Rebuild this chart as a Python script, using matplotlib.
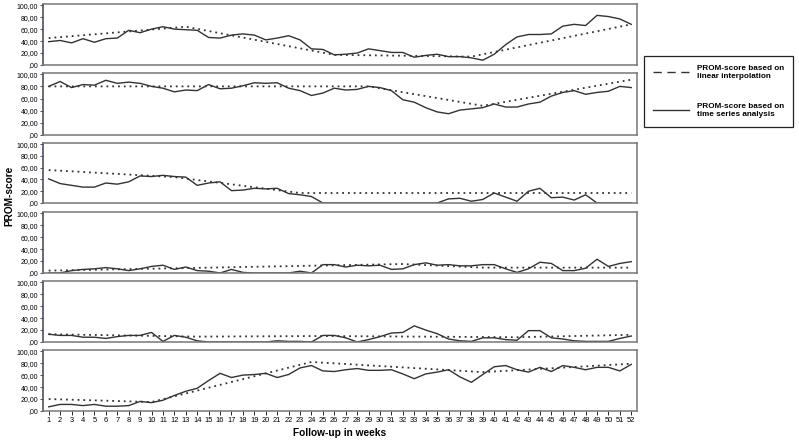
import matplotlib
matplotlib.use("Agg")
import matplotlib.pyplot as plt
from matplotlib.lines import Line2D

plt.rcParams['font.family'] = ['Liberation Sans', 'DejaVu Sans']

weeks = list(range(1, 53))

# PROM-score based on time series analysis, one list per patient (weeks 1..52)
ts_1 = [39, 41, 37, 44, 38, 44, 45, 58, 54, 60, 64, 60, 59, 58, 46, 45, 50, 52, 50, 42,
        45, 49, 42, 27, 26, 17, 18, 20, 27, 24, 21, 21, 13, 16, 18, 14, 14, 12, 8, 18,
        34, 47, 51, 51, 52, 65, 68, 66, 83, 81, 77, 68]
ts_2 = [80, 88, 78, 83, 82, 90, 85, 87, 85, 80, 77, 71, 74, 73, 83, 76, 77, 81, 86, 85,
        86, 77, 73, 65, 69, 77, 74, 75, 80, 78, 73, 58, 54, 45, 38, 35, 41, 43, 45, 51,
        46, 46, 51, 54, 64, 70, 73, 67, 70, 72, 80, 78]
ts_3 = [41, 33, 30, 27, 27, 34, 32, 36, 46, 45, 47, 45, 44, 30, 34, 36, 21, 22, 25, 24,
        25, 16, 14, 11, 0, 0, 0, 0, 0, 0, 0, 0, 0, 0, 0, 7, 8, 3, 6, 17,
        10, 3, 20, 25, 9, 10, 5, 14, 0, 0, 0, 0]
ts_4 = [0, 0, 4, 6, 7, 9, 7, 4, 7, 11, 13, 6, 10, 4, 3, 0, 6, 1, 0, 0,
        0, 0, 3, 0, 14, 14, 10, 13, 12, 13, 6, 7, 14, 17, 13, 14, 12, 12, 14, 14,
        7, 1, 7, 18, 16, 4, 4, 8, 23, 11, 16, 19]
ts_5 = [13, 11, 11, 8, 8, 6, 9, 11, 11, 16, 1, 11, 8, 2, 0, 0, 0, 0, 0, 0,
        2, 1, 1, 0, 11, 11, 7, 0, 4, 9, 15, 16, 27, 20, 14, 5, 2, 1, 7, 7,
        4, 3, 19, 19, 7, 5, 2, 1, 1, 1, 6, 10]
ts_6 = [7, 11, 11, 9, 11, 8, 8, 9, 16, 14, 18, 26, 33, 38, 51, 63, 56, 60, 61, 63,
        56, 61, 72, 76, 67, 66, 69, 71, 68, 68, 69, 62, 54, 62, 65, 69, 57, 48, 61, 74,
        76, 69, 65, 73, 66, 76, 73, 69, 73, 73, 67, 78]

# PROM-score based on linear interpolation: measurement weeks and scores
li_weeks_1 = [1, 13, 26, 38, 52]
li_vals_1 = [45, 64, 17, 14, 68]
li_weeks_2 = [1, 29, 39, 52]
li_vals_2 = [80, 80, 48, 91]
li_weeks_3 = [1, 12, 23, 52]
li_vals_3 = [56, 44, 17, 17]
li_weeks_4 = [1, 32, 39, 52]
li_vals_4 = [4, 15, 9, 9]
li_weeks_5 = [1, 14, 25, 42, 52]
li_vals_5 = [13, 9, 10, 8, 12]
li_weeks_6 = [1, 10, 24, 39, 52]
li_vals_6 = [20, 15, 82, 65, 79]

yticks = [0, 20, 40, 60, 80, 100]
ytick_labels = [',00', '20,00', '40,00', '60,00', '80,00', '100,00']

ts_all = [ts_1, ts_2, ts_3, ts_4, ts_5, ts_6]
li_all = [(li_weeks_1, li_vals_1), (li_weeks_2, li_vals_2), (li_weeks_3, li_vals_3),
          (li_weeks_4, li_vals_4), (li_weeks_5, li_vals_5), (li_weeks_6, li_vals_6)]

W, H = 799, 442
fig = plt.figure(figsize=(W / 100, H / 100), dpi=100)

panel_px = [(4, 65), (73, 135), (143, 203), (212, 273), (281, 342), (350, 411)]  # top, bottom in pixels
left_px, right_px = 43, 637
line_col = '#333333'
frame_col = '#777777'

axes = []
for i, (top, bot) in enumerate(panel_px):
    ax = fig.add_axes([left_px / W, 1 - bot / H, (right_px - left_px) / W, (bot - top) / H])
    wk, vals = li_all[i]
    ax.plot(wk, vals, color=line_col, lw=1.3, linestyle=(0, (1, 2.2)))
    ax.plot(weeks, ts_all[i], color=line_col, lw=1.0)
    ax.set_xlim(0.5, 52.5)
    ax.set_ylim(0, 102)
    ax.set_yticks(yticks)
    ax.set_yticklabels(ytick_labels, fontsize=5)
    ax.tick_params(axis='y', length=2.5, width=0.6, pad=1, color='#333366')
    for s in ax.spines.values():
        s.set_color(frame_col)
        s.set_linewidth(1.1)
    ax.spines['left'].set_color('#444455')
    if i < 5:
        ax.set_xticks([])
    else:
        ax.set_xticks(weeks)
        ax.set_xticklabels([str(w) for w in weeks], fontsize=5.4)
        ax.tick_params(axis='x', length=3, width=0.6, pad=1.5)
    axes.append(ax)

fig.text(0.5 * (left_px + right_px) / W, 1 - 433 / H, 'Follow-up in weeks',
         ha='center', va='center', fontsize=7.3, fontweight='bold')
fig.text(9 / W, 1 - 196 / H, 'PROM-score', rotation=90, ha='center', va='center',
         fontsize=7.3, fontweight='bold')

handles = [Line2D([], [], color=line_col, lw=1.0, linestyle=(0, (6, 4))),
           Line2D([], [], color=line_col, lw=1.0)]
labels = ['PROM-score based on\nlinear interpolation', 'PROM-score based on\ntime series analysis']
leg = fig.legend(handles, labels, loc='upper left', bbox_to_anchor=(644 / W, 1 - 56 / H),
                 prop={'size': 5.9, 'weight': 'bold'}, handlelength=4.4, handletextpad=1.0,
                 labelspacing=2.8, borderpad=1.1, borderaxespad=0, fancybox=False,
                 framealpha=1, edgecolor='#222222')
leg.get_frame().set_linewidth(0.9)

fig.savefig('out.png', dpi=100)
